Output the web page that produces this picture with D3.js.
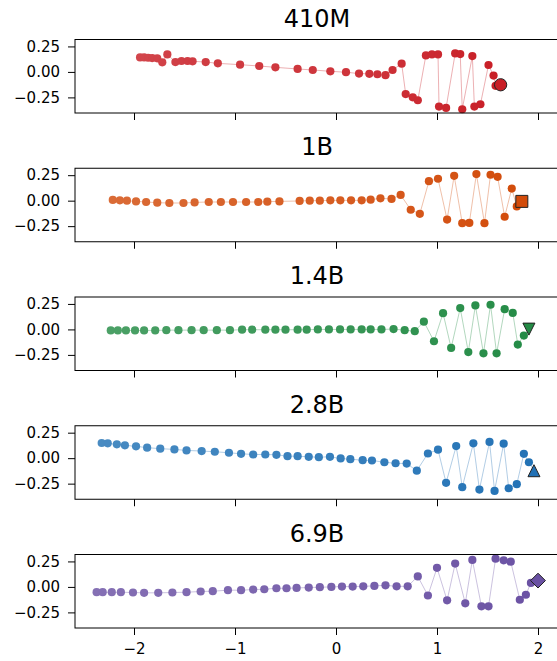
<!DOCTYPE html>
<html>
<head>
<meta charset="utf-8">
<script src="https://cdn.jsdelivr.net/npm/d3@7"></script>
<style>
  html, body { margin: 0; padding: 0; background: #fff; }
  svg { display: block; font-family: "DejaVu Sans", sans-serif; }
</style>
</head>
<body>
<svg id="chart" width="557" height="661"></svg>
<script>
// Model sizes, one panel each
const models = ["410M", "1B", "1.4B", "2.8B", "6.9B"];

// Trajectory coordinates for each model (x, y per checkpoint)
const x410M = [-1.94,-1.90,-1.86,-1.82,-1.77,-1.72,-1.67,-1.59,-1.53,-1.47,-1.42,-1.29,-1.17,-0.95,-0.76,-0.60,-0.38,-0.23,-0.056,0.099,0.228,0.33,0.41,0.49,0.56,0.65,0.69,0.76,0.81,0.89,0.95,1.01,1.02,1.09,1.18,1.23,1.25,1.35,1.37,1.43,1.51,1.56,1.58,1.63];
const y410M = [0.142,0.142,0.139,0.136,0.133,0.094,0.172,0.097,0.107,0.107,0.104,0.097,0.084,0.071,0.058,0.045,0.029,0.019,0.006,-0.003,-0.016,-0.019,-0.023,-0.032,0.019,0.081,-0.217,-0.249,-0.278,0.162,0.172,0.172,-0.340,-0.353,0.181,0.175,-0.366,0.155,-0.340,-0.317,0.068,-0.036,-0.136,-0.126];

const x1B = [-2.21,-2.14,-2.07,-1.98,-1.88,-1.77,-1.65,-1.51,-1.40,-1.26,-1.14,-1.02,-0.89,-0.77,-0.68,-0.56,-0.36,-0.26,-0.16,-0.056,0.043,0.149,0.254,0.343,0.44,0.55,0.64,0.74,0.83,0.92,1.01,1.10,1.17,1.25,1.32,1.39,1.47,1.53,1.60,1.67,1.74,1.79,1.84];
const y1B = [0.007,0.003,0.000,-0.007,-0.013,-0.020,-0.023,-0.023,-0.017,-0.013,-0.013,-0.013,-0.013,-0.013,-0.010,-0.007,-0.003,0.000,0.000,0.003,0.003,0.003,0.003,0.010,0.023,0.017,0.056,-0.089,-0.129,0.191,0.215,-0.185,0.244,-0.221,-0.218,0.261,-0.221,0.254,0.234,-0.158,0.119,-0.056,-0.007];

const x1_4B = [-2.23,-2.16,-2.08,-1.99,-1.90,-1.79,-1.68,-1.56,-1.43,-1.31,-1.18,-1.05,-0.93,-0.83,-0.70,-0.60,-0.50,-0.38,-0.29,-0.18,-0.07,0.04,0.145,0.254,0.343,0.45,0.57,0.68,0.78,0.87,0.97,1.06,1.14,1.23,1.31,1.38,1.46,1.53,1.59,1.67,1.75,1.80,1.86,1.91];
const y1_4B = [-0.010,-0.010,-0.010,-0.010,-0.010,-0.010,-0.007,-0.007,-0.007,-0.007,-0.007,-0.007,-0.003,-0.003,-0.003,-0.003,-0.003,-0.003,-0.003,0.000,0.000,0.000,0.000,0.000,0.000,0.000,0.003,-0.007,-0.017,0.076,-0.116,0.159,-0.182,0.209,-0.222,0.235,-0.235,0.242,-0.235,0.199,0.162,-0.149,-0.060,0.003];

const x2_8B = [-2.32,-2.26,-2.17,-2.09,-1.98,-1.87,-1.74,-1.60,-1.48,-1.33,-1.20,-1.06,-0.94,-0.82,-0.70,-0.59,-0.48,-0.38,-0.27,-0.17,-0.06,0.046,0.142,0.264,0.356,0.479,0.59,0.70,0.80,0.91,1.01,1.09,1.19,1.25,1.36,1.42,1.52,1.57,1.66,1.71,1.79,1.86,1.91,1.96];
const y2_8B = [0.149,0.146,0.136,0.126,0.116,0.103,0.093,0.086,0.076,0.070,0.063,0.053,0.043,0.036,0.036,0.033,0.020,0.020,0.013,0.010,0.013,-0.003,-0.010,-0.020,-0.023,-0.040,-0.050,-0.053,-0.123,0.046,0.083,-0.242,0.119,-0.285,0.146,-0.308,0.159,-0.321,0.142,-0.295,-0.255,0.043,-0.040,-0.123];

const x6_9B = [-2.37,-2.31,-2.22,-2.13,-2.01,-1.90,-1.76,-1.62,-1.48,-1.34,-1.22,-1.07,-0.94,-0.82,-0.71,-0.59,-0.49,-0.39,-0.27,-0.16,-0.046,0.059,0.165,0.27,0.38,0.49,0.60,0.71,0.81,0.91,1.00,1.10,1.18,1.28,1.35,1.44,1.51,1.58,1.66,1.73,1.82,1.88,1.93,2.00];
const y6_9B = [-0.052,-0.052,-0.052,-0.052,-0.055,-0.058,-0.058,-0.055,-0.052,-0.045,-0.042,-0.032,-0.032,-0.026,-0.023,-0.013,-0.013,-0.010,-0.006,-0.003,0.000,0.003,0.003,0.006,0.010,0.016,0.006,0.006,0.103,-0.084,0.187,-0.132,0.229,-0.161,0.265,-0.190,-0.190,0.277,0.261,0.248,-0.126,-0.077,0.039,0.062];

const xSeries = [x410M, x1B, x1_4B, x2_8B, x6_9B];
const ySeries = [y410M, y1B, y1_4B, y2_8B, y6_9B];

// Axis ticks
const xTicks = [-2, -1, 0, 1, 2];
const yTicks = [0.25, 0, -0.25];

// Panel styling
const colors = ["#c81d25", "#d24b0a", "#238b45", "#2171b5", "#6a51a3"];
const endMarkers = ["circle", "square", "triangleDown", "triangleUp", "diamond"];

const svg = d3.select("#chart");
const left = 75, right = 559;
const panelTop0 = 39.5, panelStep = 128.75, panelH = 73.5;

const x = d3.scaleLinear().domain([(left - 336) / 101, (right - 336) / 101]).range([left, right]);

const fmtY = v => (v < 0 ? "\u2212" : "") + Math.abs(v).toFixed(2);
const fmtX = v => (v < 0 ? "\u2212" : "") + Math.abs(v);

// Marker shapes (width equals height for triangles)
const shapes = {
  square: { draw(ctx, size) { const h = Math.sqrt(size) / 2; ctx.rect(-h, -h, 2 * h, 2 * h); } },
  diamond: { draw(ctx, size) { const h = Math.sqrt(size) / 2; ctx.moveTo(0, -h); ctx.lineTo(h, 0); ctx.lineTo(0, h); ctx.lineTo(-h, 0); ctx.closePath(); } },
  triangleUp: { draw(ctx, size) { const h = Math.sqrt(size) / 2; ctx.moveTo(0, -h); ctx.lineTo(h, h); ctx.lineTo(-h, h); ctx.closePath(); } },
  triangleDown: { draw(ctx, size) { const h = Math.sqrt(size) / 2; ctx.moveTo(0, h); ctx.lineTo(h, -h); ctx.lineTo(-h, -h); ctx.closePath(); } },
  circle: d3.symbolCircle
};
const shapeSize = { circle: 118, square: 144, diamond: 220, triangleUp: 144, triangleDown: 144 };

models.forEach((name, i) => {
  const top = panelTop0 + i * panelStep;
  const y = d3.scaleLinear().domain([-0.403, 0.318]).range([top + panelH, top]);
  const g = svg.append("g");
  const xs = xSeries[i], ys = ySeries[i];
  const pts = xs.map((v, k) => [v, ys[k]]);
  const col = colors[i];
  const light = d3.interpolateRgb("#ffffff", col)(0.82);

  // title
  g.append("text")
    .attr("x", (left + right) / 2).attr("y", top - 13)
    .attr("text-anchor", "middle")
    .attr("font-size", 24).attr("fill", "#000")
    .text(name);

  // connecting line
  g.append("path")
    .datum(pts)
    .attr("d", d3.line().x(d => x(d[0])).y(d => y(d[1])))
    .attr("fill", "none")
    .attr("stroke", col)
    .attr("stroke-opacity", 0.35)
    .attr("stroke-width", 1);

  // checkpoints
  const n = pts.length;
  g.selectAll("circle.pt")
    .data(pts.slice(0, n - 1))
    .join("circle")
    .attr("class", "pt")
    .attr("cx", d => x(d[0]))
    .attr("cy", d => y(d[1]))
    .attr("r", 4.1)
    .attr("fill", (d, k) => d3.interpolateRgb(light, col)(k / (n - 1)));

  // final checkpoint
  const last = pts[n - 1];
  const m = endMarkers[i];
  g.append("path")
    .attr("transform", `translate(${x(last[0])},${y(last[1])})`)
    .attr("d", d3.symbol().type(shapes[m]).size(shapeSize[m])())
    .attr("fill", col)
    .attr("stroke", "#222")
    .attr("stroke-width", 1);

  // axes
  const yAxis = d3.axisLeft(y).tickValues(yTicks).tickFormat(fmtY).tickSizeOuter(0).tickSize(7).tickPadding(8);
  const ya = g.append("g").attr("transform", `translate(${left},0)`).call(yAxis);
  ya.select(".domain").remove();
  ya.selectAll("text").attr("font-size", 15).attr("fill", "#000").attr("font-family", "DejaVu Sans");
  ya.selectAll("line").attr("stroke", "#000").attr("stroke-width", 1);

  const xAxis = d3.axisBottom(x).tickValues(xTicks).tickFormat(fmtX).tickSizeOuter(0).tickSize(7).tickPadding(6);
  const xa = g.append("g").attr("transform", `translate(0,${top + panelH})`).call(xAxis);
  xa.select(".domain").remove();
  xa.selectAll("line").attr("stroke", "#000").attr("stroke-width", 1);
  if (i < models.length - 1) xa.selectAll("text").remove();
  else xa.selectAll("text").attr("font-size", 15).attr("fill", "#000").attr("font-family", "DejaVu Sans").attr("dy", "0.85em");

  // frame
  g.append("rect")
    .attr("x", left).attr("y", top)
    .attr("width", right - left).attr("height", panelH)
    .attr("fill", "none").attr("stroke", "#000").attr("stroke-width", 1);
});
</script>
</body>
</html>
